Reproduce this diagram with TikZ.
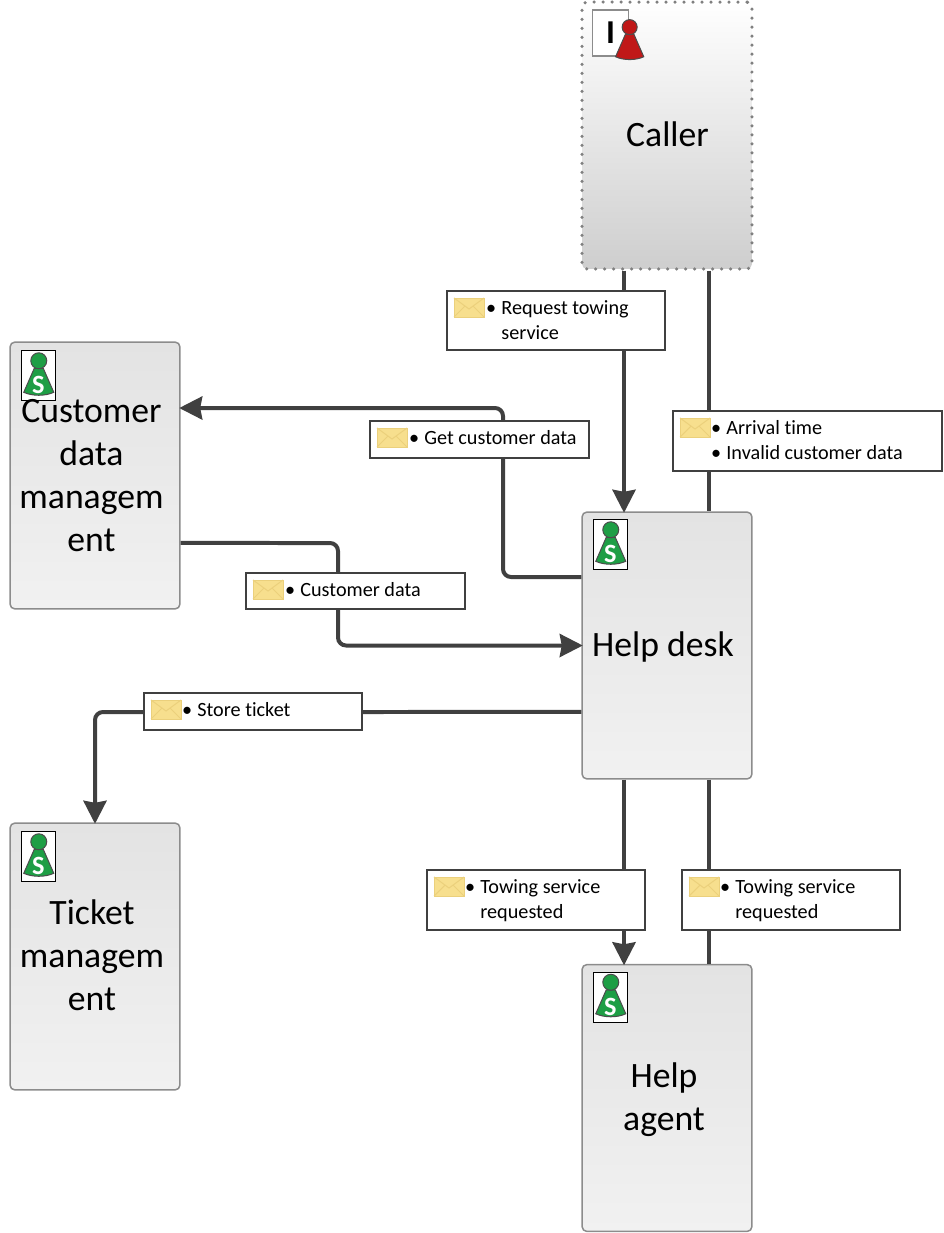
\documentclass[tikz,border=0pt]{standalone}
\usepackage{fontspec}
\setmainfont{Carlito}[Ligatures=NoCommon]
\usetikzlibrary{arrows.meta}
\definecolor{conncol}{HTML}{404040}
\definecolor{edgecol}{HTML}{8C8C8C}
\definecolor{boxtop}{HTML}{E3E3E3}
\definecolor{boxbot}{HTML}{F1F1F1}
\definecolor{callerbot}{HTML}{CECECE}
\definecolor{envfill}{HTML}{F7DF8E}
\definecolor{envline}{HTML}{EBD07C}
\definecolor{pawngreen}{HTML}{1E9E45}
\definecolor{pawnred}{HTML}{C01818}
\newcommand{\msgdot}{\llap{\textbullet\hspace{3pt}}}
\tikzset{
	x=0.02cm,y=-0.02cm,
	actorbox/.style={draw=edgecol,line width=0.03cm,rounded corners=0.1cm,top color=boxtop,bottom color=boxbot,minimum width=3.4cm,minimum height=5.34cm,inner sep=0pt},
	callerbox/.style={actorbox,draw=black!50,top color=white,bottom color=callerbot,line width=0.07cm,line cap=round,dash pattern=on 0pt off 0.18cm},
	actortext/.style={align=center,inner sep=0pt,font=\fontsize{20.3}{24.4}\selectfont},
	conn/.style={draw=conncol,line width=0.08cm,rounded corners=0.16cm},
	connarrow/.style={conn,shorten >=-0.03cm,-{Stealth[length=0.46cm,width=0.46cm,inset=0.04cm]}},
	msglabel/.style={draw=conncol,line width=0.04cm,fill=white,inner sep=0pt},
	msgtext/.style={anchor=north west,inner sep=0pt,align=left,font=\fontsize{11.5}{13.9}\selectfont},
	pics/envelope/.style={code={
		\draw [draw=envline,fill=envfill,line width=0.02cm] (0,0) rectangle (30,19);
		\draw [draw=envline,line width=0.02cm] (0,0) -- (15,11) -- (30,0) (0,19) -- (11,8) (30,19) -- (19,8);
	}},
	pics/pawnfig/.style={code={
		\draw [draw=black!70,fill=#1,line width=0.02cm] (14,18) -- (3.5,42) .. controls (12,46) and (25,46) .. (33.5,42) -- (23,18) -- cycle;
		\draw [draw=black!70,fill=#1,line width=0.02cm] (18.5,10.5) circle [radius=8];
	}},
	pics/servicepawn/.style={code={
		\node [draw=black,fill=white,line width=0.02cm,minimum width=0.68cm,minimum height=1cm,anchor=north west,inner sep=0pt](-frame) at (0,0) {};
		\pic at (-0.5,0) {pawnfig=pawngreen};
		\node [text=white,inner sep=0pt,font=\fontsize{15}{15}\selectfont\bfseries](-s) at (17.5,35) {S};
	}},
}
\begin{document}
\begin{tikzpicture}
	\useasboundingbox (0,0) rectangle (943,1233);

	\node [callerbox](caller) at (667,135.5) {};
	\node [actorbox](custdata) at (95,475.5) {};
	\node [actorbox](helpdesk) at (667,645.5) {};
	\node [actorbox](ticket) at (95,956.5) {};
	\node [actorbox](agent) at (667,1098) {};

	\node [draw=edgecol,fill=white,line width=0.03cm,minimum width=0.72cm,minimum height=0.92cm,anchor=north west,inner sep=0pt](callerframe) at ([shift={(11.5,9)}]caller.north west) {};
	\node [inner sep=0pt,font=\fontsize{19}{19}\selectfont\bfseries](callerI) at (callerframe.center) {I};
	\pic at ([shift={(20.5,8)}]callerframe.north west) [scale=0.94] {pawnfig=pawnred};
	\pic (custpawn) at ([shift={(11.5,9)}]custdata.north west) {servicepawn};
	\pic (deskpawn) at ([shift={(11.5,8)}]helpdesk.north west) {servicepawn};
	\pic (ticketpawn) at ([shift={(11.5,9)}]ticket.north west) {servicepawn};
	\pic (agentpawn) at ([shift={(11.5,8)}]agent.north west) {servicepawn};

	\node [actortext](callertext) at (667.5,134.5) {Caller};
	\node [actortext](custtext) at (91.5,475.5) {Customer\\data\\managem\\ent};
	\node [actortext](desktext) at (663,646.5) {Help desk};
	\node [actortext](tickettext) at (92,955.5) {Ticket\\managem\\ent};
	\node [actortext](agenttext) at (664,1100) {Help\\agent};

	\coordinate (bendA) at (338,543);
	\coordinate (bendB) at (338,645.5);
	\coordinate (bendC) at (503,577);
	\coordinate (bendD) at (503,408);
	\coordinate (bendE) at (95,712);

	\draw [connarrow] ([xshift=-0.86cm]caller.south) -- ([xshift=-0.86cm]helpdesk.north);
	\draw [conn] ([xshift=0.84cm]caller.south) -- ([xshift=0.84cm]helpdesk.north);
	\draw [connarrow] ([yshift=1.37cm]helpdesk.west) -- (bendC) -- (bendD) -- ([yshift=1.35cm]custdata.east);
	\draw [connarrow] ([yshift=-1.35cm]custdata.east) -- (bendA) -- (bendB) -- (helpdesk.west);
	\draw [connarrow] ([yshift=-1.33cm]helpdesk.west) -- (bendE) -- (ticket.north);
	\draw [connarrow] ([xshift=-0.86cm]helpdesk.south) -- ([xshift=-0.86cm]agent.north);
	\draw [conn] ([xshift=0.84cm]helpdesk.south) -- ([xshift=0.84cm]agent.north);

	\node [msglabel,minimum width=4.36cm,minimum height=1.18cm](lblrequest) at (556,320.5) {};
	\pic at ([shift={(8,8)}]lblrequest.north west) {envelope};
	\node [msgtext](txtrequest) at ([shift={(55,10.5)}]lblrequest.north west) {\msgdot Request towing\\service};

	\node [msglabel,minimum width=4.38cm,minimum height=0.74cm](lblget) at (479.5,439.5) {};
	\pic at ([shift={(8,8)}]lblget.north west) {envelope};
	\node [msgtext](txtget) at ([shift={(55,10.5)}]lblget.north west) {\msgdot Get customer data};

	\node [msglabel,minimum width=5.38cm,minimum height=1.2cm](lblarrival) at (807.5,441) {};
	\pic at ([shift={(8,8)}]lblarrival.north west) {envelope};
	\node [msgtext](txtarrival) at ([shift={(54,10.5)}]lblarrival.north west) {\msgdot Arrival time\\\msgdot Invalid customer data};

	\node [msglabel,minimum width=4.38cm,minimum height=0.72cm](lblcust) at (355.5,591) {};
	\pic at ([shift={(8,8)}]lblcust.north west) {envelope};
	\node [msgtext](txtcust) at ([shift={(55,10.5)}]lblcust.north west) {\msgdot Customer data};

	\node [msglabel,minimum width=4.36cm,minimum height=0.74cm](lblstore) at (253,711.5) {};
	\pic at ([shift={(8,8)}]lblstore.north west) {envelope};
	\node [msgtext](txtstore) at ([shift={(54,10.5)}]lblstore.north west) {\msgdot Store ticket};

	\node [msglabel,minimum width=4.36cm,minimum height=1.2cm](lbltowa) at (536,900) {};
	\pic at ([shift={(8,8)}]lbltowa.north west) {envelope};
	\node [msgtext](txttowa) at ([shift={(54,10.5)}]lbltowa.north west) {\msgdot Towing service\\requested};

	\node [msglabel,minimum width=4.36cm,minimum height=1.2cm](lbltowb) at (791,900) {};
	\pic at ([shift={(8,8)}]lbltowb.north west) {envelope};
	\node [msgtext](txttowb) at ([shift={(54,10.5)}]lbltowb.north west) {\msgdot Towing service\\requested};
\end{tikzpicture}
\end{document}
